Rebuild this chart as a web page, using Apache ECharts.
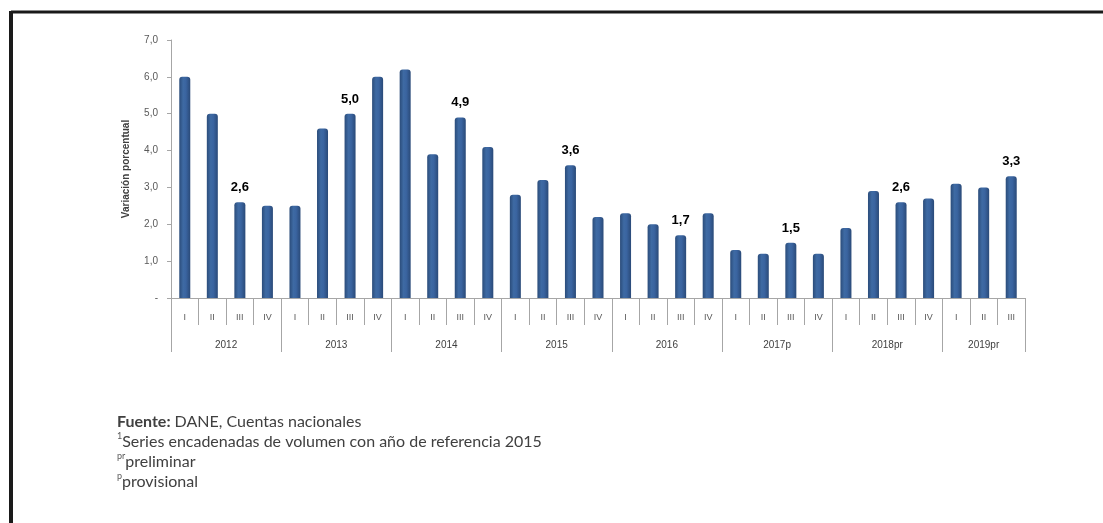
<!DOCTYPE html>
<html>
<head>
<meta charset="utf-8">
<script src="https://cdn.jsdelivr.net/npm/echarts@6/dist/echarts.min.js"></script>
<style>
html,body{margin:0;padding:0;background:#fff;}
#chart{width:1103px;height:523px;}
</style>
</head>
<body>
<div id="chart"></div>
<script>
// ---- data ----
const years = ['2012','2013','2014','2015','2016','2017p','2018pr','2019pr'];
const quartersPerYear = [4,4,4,4,4,4,4,3];
const quarterNames = ['I','II','III','IV'];
const values = [
  6.0, 5.0, 2.6, 2.5,
  2.5, 4.6, 5.0, 6.0,
  6.2, 3.9, 4.9, 4.1,
  2.8, 3.2, 3.6, 2.2,
  2.3, 2.0, 1.7, 2.3,
  1.3, 1.2, 1.5, 1.2,
  1.9, 2.9, 2.6, 2.7,
  3.1, 3.0, 3.3
];
const yTicks = [0,1,2,3,4,5,6,7];
const yAxisName = 'Variación porcentual';
const footnotes = [
  '{b|Fuente:} DANE, Cuentas nacionales',
  '{s|1}Series encadenadas de volumen con año de referencia 2015',
  '{s|pr}preliminar',
  '{s|p}provisional'
];

// ---- derived ----
const quarters = [];
const boundaries = [0];
const mids = [];
let acc = 0;
quartersPerYear.forEach((n) => {
  for (let i = 0; i < n; i++) quarters.push(quarterNames[i]);
  mids.push(acc + n / 2);
  acc += n;
  boundaries.push(acc);
});
const fmt = v => v === 0 ? '-' : v.toFixed(1).replace('.', ',');

const chart = echarts.init(document.getElementById('chart'), null, {renderer: 'canvas'});
const gray = '#A6A6A6';
const labelGray = '#595959';

const option = {
  backgroundColor: '#ffffff',
  animation: false,
  grid: {left: 171, right: 78, top: 40, bottom: 225, containLabel: false},
  xAxis: [
    {
      type: 'category',
      data: quarters,
      position: 'bottom',
      boundaryGap: true,
      axisLine: {show: true, lineStyle: {color: gray, width: 1}},
      axisTick: {show: true, interval: 0, length: 27, lineStyle: {color: gray}},
      axisLabel: {interval: 0, margin: 15, color: labelGray, fontSize: 9, fontFamily: 'Liberation Sans'},
      splitLine: {show: false}
    },
    {
      type: 'value',
      min: 0,
      max: acc,
      position: 'bottom',
      axisLine: {show: false},
      axisTick: {show: true, length: 54, customValues: boundaries, lineStyle: {color: gray}},
      axisLabel: {
        customValues: mids,
        margin: 42,
        color: '#404040',
        fontSize: 10,
        fontFamily: 'Liberation Sans',
        formatter: v => {
          const i = mids.indexOf(v);
          return i >= 0 ? years[i] : '';
        }
      },
      splitLine: {show: false}
    }
  ],
  yAxis: {
    type: 'value',
    min: 0,
    max: 7,
    interval: 1,
    name: yAxisName,
    nameLocation: 'middle',
    nameGap: 40,
    nameRotate: 90,
    nameTextStyle: {fontSize: 10, fontWeight: 'bold', color: '#404040', fontFamily: 'Liberation Sans'},
    axisLine: {show: true, lineStyle: {color: gray}},
    axisTick: {show: true, inside: false, length: 4, lineStyle: {color: gray}},
    axisLabel: {
      color: labelGray, fontSize: 10, margin: 13, fontFamily: 'Liberation Sans',
      formatter: v => yTicks.indexOf(v) >= 0 ? fmt(v) : ''
    },
    splitLine: {show: false}
  },
  series: [{
    type: 'bar',
    xAxisIndex: 0,
    data: values,
    barWidth: 11,
    itemStyle: {
      borderRadius: [3, 3, 0, 0],
      color: new echarts.graphic.LinearGradient(0, 0, 1, 0, [
        {offset: 0, color: '#2B4C7A'},
        {offset: 0.35, color: '#3E6AA3'},
        {offset: 0.6, color: '#3A64A0'},
        {offset: 1, color: '#2A4A78'}
      ])
    },
    label: {
      show: true,
      position: 'top',
      distance: 8,
      color: '#000',
      fontSize: 13,
      fontWeight: 'bold',
      fontFamily: 'Liberation Sans Narrow, Liberation Sans',
      formatter: p => quarters[p.dataIndex] === 'III' ? fmt(p.value) : ''
    }
  }],
  graphic: [
    {type: 'line', shape: {x1: 11, y1: 12, x2: 1103, y2: 12}, style: {stroke: '#1a1a1a', lineWidth: 3}, silent: true},
    {type: 'line', shape: {x1: 11, y1: 11, x2: 11, y2: 523}, style: {stroke: '#1a1a1a', lineWidth: 4}, silent: true},
    ...footnotes.map((t, i) => ({
      type: 'text',
      left: 117,
      top: 412 + i * 20,
      silent: true,
      style: {
        text: t,
        fontFamily: 'Lato',
        fontSize: 16,
        fill: '#404040',
        lineHeight: 19,
        rich: {
          b: {fontFamily: 'Lato', fontSize: 16, fontWeight: 'bold', fill: '#404040', lineHeight: 19},
          s: {fontFamily: 'Lato', fontSize: 9, fill: '#595959', verticalAlign: 'top', lineHeight: 19, padding: [0, 0, 9, 0]}
        }
      }
    }))
  ]
};
chart.setOption(option);
</script>
</body>
</html>
